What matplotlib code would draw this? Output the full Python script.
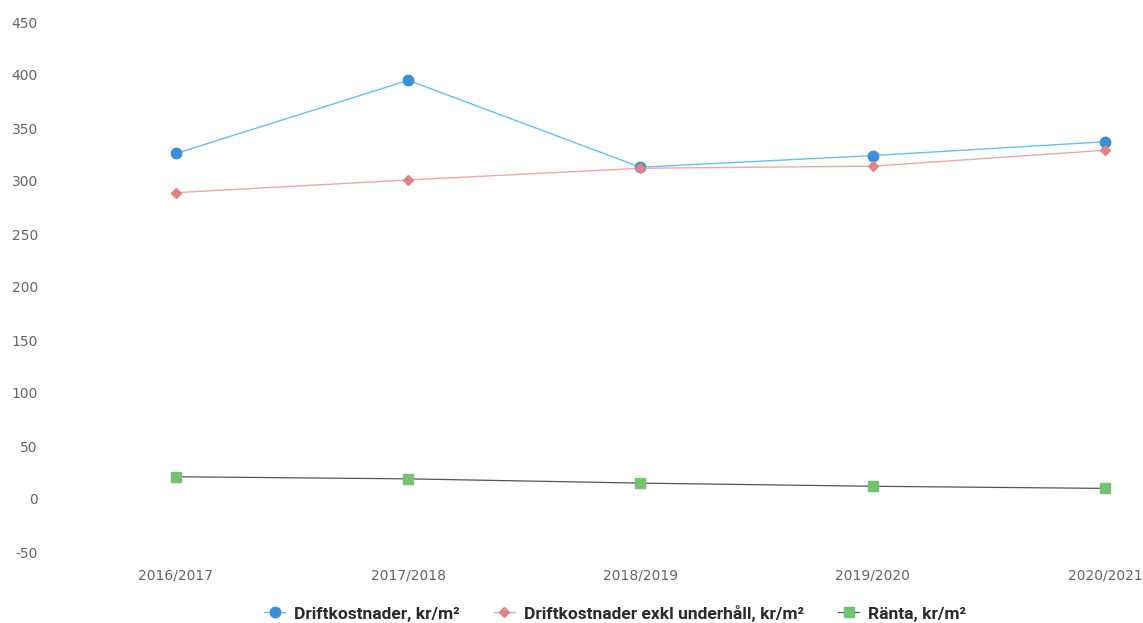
import matplotlib.pyplot as plt

plt.rcParams["axes.unicode_minus"] = False

years = ["2016/2017", "2017/2018", "2018/2019", "2019/2020", "2020/2021"]
drift = [326, 395, 313, 324, 337]
drift_exkl = [289, 301, 312, 314, 329]
ranta = [21, 19, 15, 12, 10]

W, H = 1143, 623
fig = plt.figure(figsize=(W / 100, H / 100), dpi=100)
ax = fig.add_axes([60 / W, (H - 552) / H, (W - 60) / W, (552 - 22) / H])

x = list(range(len(years)))
ax.plot(x, drift, color="#63c3ee", lw=1, marker="o", ms=7.5,
        mfc="#3b8fd9", mec="#3b8fd9", label="Driftkostnader, kr/m²", zorder=3)
ax.plot(x, drift_exkl, color="#f2a7a7", lw=1, marker="D", ms=5,
        mfc="#e08585", mec="#e08585", label="Driftkostnader exkl underhåll, kr/m²", zorder=3)
ax.plot(x, ranta, color="#555555", lw=0.9, marker="s", ms=7.5,
        mfc="#72c472", mec="#72c472", label="Ränta, kr/m²", zorder=3)

ax.set_xlim(-0.4995, 4.164)
ax.set_ylim(-50, 450)
ax.set_yticks(range(-50, 451, 50))
ax.set_xticks(x)
ax.set_xticklabels(years)
for s in ax.spines.values():
    s.set_visible(False)
ax.tick_params(length=0, colors="#666666", labelsize=10)
ax.tick_params(axis="y", pad=16)
ax.tick_params(axis="x", pad=12)

leg = fig.legend(loc="center", bbox_to_anchor=(0.538, 10 / H), ncol=3, frameon=False,
                 prop={"family": ["Roboto", "DejaVu Sans"], "weight": "bold", "size": 12.5},
                 handlelength=1.2, columnspacing=2.0, handletextpad=0.5)
for t in leg.get_texts():
    t.set_color("#2a2a2a")

fig.savefig("out.png", dpi=100)
